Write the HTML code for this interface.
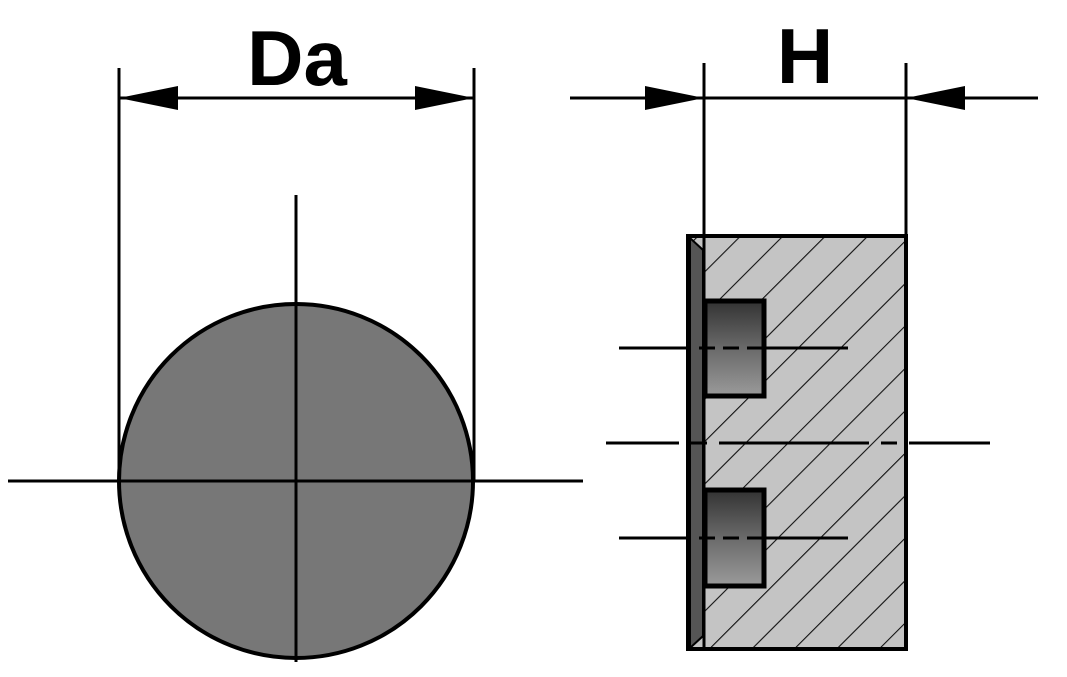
<!DOCTYPE html>
<html><head><style>body{margin:0;background:#fff}svg{display:block}</style></head>
<body>
<svg width="1067" height="677" viewBox="0 0 1067 677" xmlns="http://www.w3.org/2000/svg">
<defs>
<pattern id="h" patternUnits="userSpaceOnUse" width="30" height="30" patternTransform="rotate(45)">
<rect width="30" height="30" fill="#c4c4c4"/>
<line x1="0" y1="0" x2="0" y2="30" stroke="#111" stroke-width="2.2"/>
</pattern>
<linearGradient id="g" x1="0" y1="0" x2="0" y2="1">
<stop offset="0" stop-color="#333"/><stop offset="0.5" stop-color="#6a6a6a"/><stop offset="1" stop-color="#9a9a9a"/>
</linearGradient>
</defs>
<circle cx="296" cy="481" r="177" fill="#777" stroke="#000" stroke-width="4"/>
<g stroke="#000" stroke-width="3">
<line x1="8" y1="481" x2="583" y2="481"/>
<line x1="296" y1="195" x2="296" y2="662"/>
<line x1="119" y1="68" x2="119" y2="481"/>
<line x1="474" y1="68" x2="474" y2="481"/>
<line x1="119" y1="98" x2="474" y2="98"/>
</g>
<polygon points="119,98 178,86 178,110" fill="#000"/>
<polygon points="474,98 415,86 415,110" fill="#000"/>
<text x="297" y="85" font-family="Liberation Sans, sans-serif" font-weight="bold" font-size="78" text-anchor="middle">Da</text>
<rect x="688" y="236" width="218" height="413" fill="url(#h)" stroke="#000" stroke-width="4"/>
<polygon points="690,238 703,250 703,636 690,648" fill="#555" stroke="#000" stroke-width="2"/>
<line x1="704" y1="238" x2="704" y2="648" stroke="#000" stroke-width="3"/>
<rect x="705" y="301" width="59" height="95" fill="url(#g)" stroke="#000" stroke-width="5"/>
<rect x="705" y="490" width="59" height="96" fill="url(#g)" stroke="#000" stroke-width="5"/>
<g stroke="#000" stroke-width="3">
<line x1="619" y1="348" x2="848" y2="348" stroke-dasharray="72,8,16,8,16,8,300"/>
<line x1="619" y1="538" x2="848" y2="538" stroke-dasharray="72,8,16,8,16,8,300"/>
<line x1="606" y1="443" x2="990" y2="443" stroke-dasharray="73,12,16,12,150,12,16,12,200"/>
<line x1="704" y1="63" x2="704" y2="236"/>
<line x1="906" y1="63" x2="906" y2="236"/>
<line x1="570" y1="98" x2="1038" y2="98"/>
</g>
<polygon points="704,98 645,86 645,110" fill="#000"/>
<polygon points="906,98 965,86 965,110" fill="#000"/>
<text x="805" y="83" font-family="Liberation Sans, sans-serif" font-weight="bold" font-size="78" text-anchor="middle">H</text>
</svg>
</body></html>
